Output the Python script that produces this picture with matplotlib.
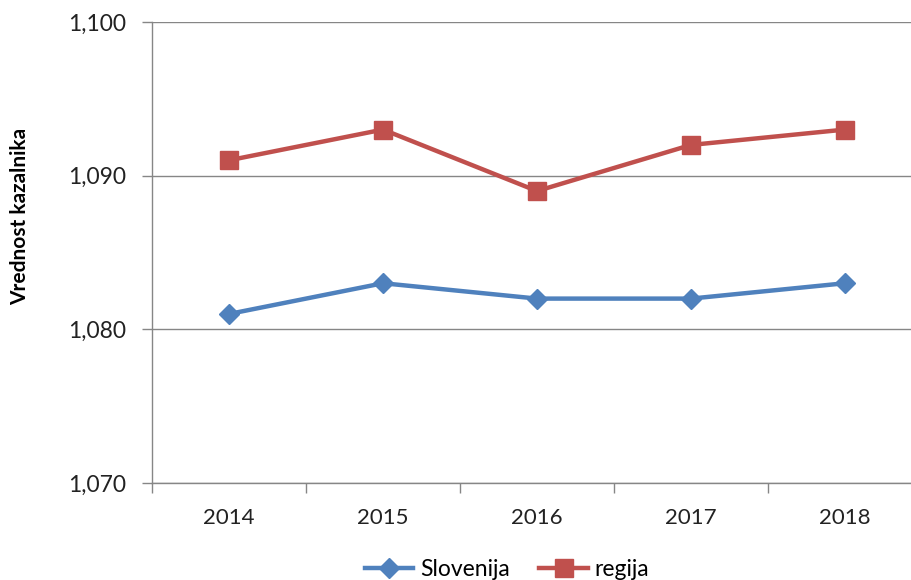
import matplotlib
matplotlib.use("Agg")
import matplotlib.pyplot as plt
from matplotlib.ticker import FuncFormatter, FixedLocator

years = ["2014", "2015", "2016", "2017", "2018"]
slovenija = [1.081, 1.083, 1.082, 1.082, 1.083]
regija = [1.091, 1.093, 1.089, 1.092, 1.093]
y_ticks = [1.070, 1.080, 1.090, 1.100]

plt.rcParams['font.family'] = ['Lato', 'DejaVu Sans']

fig = plt.figure(figsize=(9.12, 5.8), dpi=100)
ax = fig.add_axes([152/912, 97/580, 770/912, 461/580])

x = list(range(len(years)))
ax.plot(x, slovenija, color="#4F81BD", lw=3.2, marker="D", ms=10.5,
        mec="#4F81BD", mfc="#4F81BD", label="Slovenija", zorder=3)
ax.plot(x, regija, color="#C0504D", lw=3.2, marker="s", ms=13.5,
        mec="#C0504D", mfc="#C0504D", label="regija", zorder=3)

ax.set_xlim(-0.5, len(years) - 0.5)
ax.set_ylim(1.070, 1.100)
ax.yaxis.set_major_locator(FixedLocator(y_ticks))
ax.yaxis.set_major_formatter(FuncFormatter(lambda v, p: f"{v:.3f}".replace(".", ",")))
ax.set_xticks(x)
ax.set_xticklabels(years)
ax.set_xticks([i - 0.5 for i in range(len(years) + 1)], minor=True)
ax.tick_params(axis="x", which="major", length=0, pad=18, labelsize=16, colors="#222222")
ax.tick_params(axis="x", which="minor", length=7, color="#868686", width=1)
ax.tick_params(axis="y", which="major", length=7, color="#868686", width=1, pad=12,
               labelsize=16.5, labelcolor="#222222")

ax.grid(axis="y", color="#868686", lw=1)
ax.set_axisbelow(True)
for s in ["top", "right"]:
    ax.spines[s].set_visible(False)
for s in ["left", "bottom"]:
    ax.spines[s].set_color("#868686")
    ax.spines[s].set_linewidth(1)

fig.text(20/912, 1 - 216/580, "Vrednost kazalnika", rotation=90, fontsize=15,
         fontweight="bold", ha="center", va="center", color="#000000")

fig.legend(loc="center", bbox_to_anchor=(507/912, 1 - 570/580), ncol=2,
           frameon=False, fontsize=16.5, handlelength=2.1, columnspacing=1.3,
           handletextpad=0.3)

fig.savefig("out.png", dpi=100)
